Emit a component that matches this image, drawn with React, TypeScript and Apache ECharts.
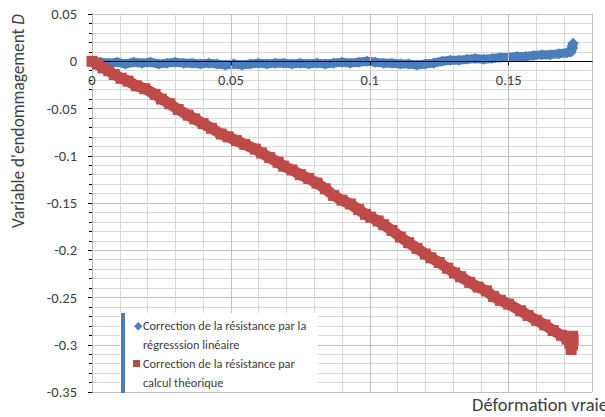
import React, { useEffect, useRef } from "react";
import * as echarts from "echarts";

const FONT = "Carlito, Lato, 'Open Sans', sans-serif";

const seriesNames = [
  "Correction de la résistance par la\nrégresssion linéaire",
  "Correction de la résistance par\ncalcul théorique",
];

// Blue series: deformation / damage variable (regression correction)
const blueX = [
  0.0, 0.003, 0.006, 0.009, 0.012, 0.015, 0.018, 0.021, 0.024, 0.027, 0.03, 0.033,
  0.036, 0.039, 0.042, 0.045, 0.048, 0.051, 0.054, 0.057, 0.06, 0.063, 0.066, 0.069,
  0.072, 0.075, 0.078, 0.081, 0.084, 0.087, 0.09, 0.093, 0.096, 0.099, 0.102, 0.105,
  0.108, 0.111, 0.114, 0.117, 0.12, 0.123, 0.126, 0.129, 0.132, 0.135, 0.138, 0.141,
  0.144, 0.147, 0.15, 0.153, 0.156, 0.159, 0.162, 0.165, 0.168, 0.171, 0.1725, 0.173,
  0.1732, 0.1728,
];
const blueY = [
  0.0, -0.001, -0.002, -0.001, -0.003, -0.001, -0.002, -0.001, -0.003, -0.002, -0.001, -0.002,
  -0.002, -0.003, -0.002, -0.003, -0.004, -0.003, -0.004, -0.003, -0.002, -0.003, -0.002, -0.002,
  -0.003, -0.002, -0.003, -0.002, -0.003, -0.002, -0.001, -0.002, -0.001, 0.0, -0.001, -0.002,
  -0.002, -0.003, -0.003, -0.004, -0.003, -0.002, 0.0, 0.001, 0.001, 0.002, 0.003, 0.002,
  0.003, 0.004, 0.004, 0.005, 0.005, 0.006, 0.007, 0.007, 0.008, 0.009, 0.01, 0.014,
  0.019, 0.016,
];

// Red series: deformation / damage variable (theoretical correction)
const redX = [
  0.0, 0.002, 0.004, 0.006, 0.008, 0.0105, 0.013, 0.016, 0.019, 0.0227, 0.025, 0.028,
  0.031, 0.0346, 0.037, 0.04, 0.043, 0.0465, 0.049, 0.052, 0.055, 0.0588, 0.061, 0.064,
  0.067, 0.069, 0.072, 0.075, 0.078, 0.081, 0.084, 0.087, 0.09, 0.093, 0.096, 0.0985,
  0.1003, 0.103, 0.105, 0.108, 0.111, 0.114, 0.117, 0.12, 0.122, 0.125, 0.128, 0.1305,
  0.1327, 0.136, 0.139, 0.142, 0.1446, 0.147, 0.15, 0.1543, 0.157, 0.16, 0.163, 0.166,
  0.169, 0.171, 0.172, 0.1725, 0.173, 0.173, 0.1732,
];
const redY = [
  0.0, -0.003, -0.007, -0.01, -0.014, -0.018, -0.021, -0.026, -0.029, -0.035, -0.04, -0.045,
  -0.051, -0.057, -0.061, -0.066, -0.071, -0.077, -0.08, -0.084, -0.088, -0.093, -0.097, -0.102,
  -0.107, -0.111, -0.115, -0.12, -0.124, -0.129, -0.135, -0.142, -0.147, -0.151, -0.157, -0.162,
  -0.165, -0.169, -0.173, -0.179, -0.186, -0.192, -0.198, -0.204, -0.208, -0.213, -0.219, -0.224,
  -0.228, -0.234, -0.239, -0.243, -0.249, -0.253, -0.257, -0.264, -0.269, -0.274, -0.279, -0.285,
  -0.29, -0.294, -0.298, -0.305, -0.3, -0.291, -0.295,
];

const yTicks = { min: -0.35, max: 0.05, interval: 0.05 };
const xTicks = { min: 0, max: 0.18, interval: 0.05, minorInterval: 0.01 };

const BLUE = "#4A7EBB";
const RED = "#BE4B48";

const GRID = { left: 92, top: 14, right: 13, bottom: 25 };
const PLOT_H = 417 - GRID.top - GRID.bottom;
// pixel distance from the bottom of the plot up to the value 0 on the y axis
const ZERO_OFFSET = PLOT_H * ((0 - yTicks.min) / (yTicks.max - yTicks.min));

export default function App() {
  const ref = useRef<HTMLDivElement>(null);
  useEffect(() => {
    if (!ref.current) return;
    const chart = echarts.init(ref.current, undefined, { renderer: "svg" });
    const blueData = blueX.map((x, i) => [x, blueY[i]]);
    const redData = redX.map((x, i) => [x, redY[i]]);
    const fmt = (v: number) => {
      const r = Math.round(v * 1000) / 1000;
      return String(r);
    };
    chart.setOption({
      animation: false,
      backgroundColor: "#ffffff",
      textStyle: { fontFamily: FONT },
      grid: { ...GRID, containLabel: false },
      xAxis: [
        {
          type: "value",
          min: xTicks.min,
          max: xTicks.max,
          interval: xTicks.interval,
          position: "bottom",
          offset: -ZERO_OFFSET,
          z: 3,
          axisLine: { onZero: false, lineStyle: { color: "#000000", width: 1 } },
          axisTick: { show: true, length: 4, lineStyle: { color: "#000000" } },
          axisLabel: {
            color: "#404040",
            fontSize: 14.5,
            fontFamily: FONT,
            margin: 11,
            showMaxLabel: false,
            formatter: (v: number) => (Math.abs(v - xTicks.max) < 1e-9 ? "" : fmt(v)),
          },
          splitLine: { show: true, lineStyle: { color: "#BFBFBF", width: 1 } },
        },
        {
          type: "value",
          min: xTicks.min,
          max: xTicks.max,
          interval: xTicks.minorInterval,
          position: "top",
          z: 0,
          axisLine: { show: false, onZero: false },
          axisTick: { show: false },
          axisLabel: { show: false },
          splitLine: { show: true, lineStyle: { color: "#D9D9D9", width: 1 } },
        },
      ],
      yAxis: {
        type: "value",
        min: yTicks.min,
        max: yTicks.max,
        interval: yTicks.interval,
        axisLine: { show: true, onZero: false, lineStyle: { color: "#000000", width: 1 } },
        axisTick: { show: true, length: 4, lineStyle: { color: "#000000" } },
        minorTick: { show: true, splitNumber: 5, length: 3, lineStyle: { color: "#000000" } },
        minorSplitLine: { show: true, lineStyle: { color: "#D9D9D9", width: 1 } },
        splitLine: { show: true, lineStyle: { color: "#BFBFBF", width: 1 } },
        axisLabel: {
          color: "#404040",
          fontSize: 14.5,
          fontFamily: FONT,
          margin: 15,
          formatter: (v: number) => fmt(v),
        },
      },
      series: [
        {
          name: seriesNames[0],
          type: "line",
          xAxisIndex: 0,
          data: blueData,
          symbol: "diamond",
          symbolSize: 11,
          showAllSymbol: true,
          lineStyle: { color: BLUE, width: 9 },
          itemStyle: { color: BLUE },
          z: 2,
        },
        {
          name: seriesNames[1],
          type: "line",
          xAxisIndex: 0,
          data: redData,
          symbol: "rect",
          symbolSize: 11,
          showAllSymbol: true,
          lineStyle: { color: RED, width: 11 },
          itemStyle: { color: RED },
          z: 3,
        },
      ],
      graphic: [
        {
          type: "rect",
          left: 120,
          top: 313,
          shape: { width: 198, height: 79 },
          style: { fill: "#ffffff" },
          z: 10,
        },
        {
          type: "rect",
          left: 121,
          top: 313,
          shape: { width: 4, height: 80 },
          style: { fill: BLUE },
          z: 11,
        },
        {
          type: "rect",
          left: 134,
          top: 322,
          shape: { width: 6, height: 6 },
          rotation: Math.PI / 4,
          originX: 137,
          originY: 325,
          style: { fill: BLUE },
          z: 11,
        },
        {
          type: "rect",
          left: 133,
          top: 360,
          shape: { width: 7, height: 7 },
          style: { fill: RED },
          z: 11,
        },
        {
          type: "text",
          left: 143,
          top: 316,
          style: {
            text: seriesNames[0],
            fill: "#404040",
            font: `12.3px ${FONT}`,
            lineHeight: 19,
          },
          z: 11,
        },
        {
          type: "text",
          left: 143,
          top: 354,
          style: {
            text: seriesNames[1],
            fill: "#404040",
            font: `12.3px ${FONT}`,
            lineHeight: 19,
          },
          z: 11,
        },
        {
          type: "text",
          left: 472,
          top: 395,
          style: {
            text: "Déformation vraie",
            fill: "#404040",
            font: `18.5px ${FONT}`,
          },
          z: 11,
        },
        {
          type: "text",
          x: 18,
          y: 121,
          rotation: Math.PI / 2,
          style: {
            text: "{a|Variable d'endommagement }{b|D}",
            align: "center",
            verticalAlign: "middle",
            rich: {
              a: { fontSize: 17.3, fontFamily: FONT, fill: "#404040" },
              b: { fontSize: 17.3, fontFamily: FONT, fontStyle: "italic", fill: "#404040" },
            },
          },
          z: 11,
        },
      ],
    });
    return () => chart.dispose();
  }, []);
  return (
    <div
      ref={ref}
      style={{ position: "fixed", left: 0, top: 0, width: 605, height: 417 }}
    />
  );
}
